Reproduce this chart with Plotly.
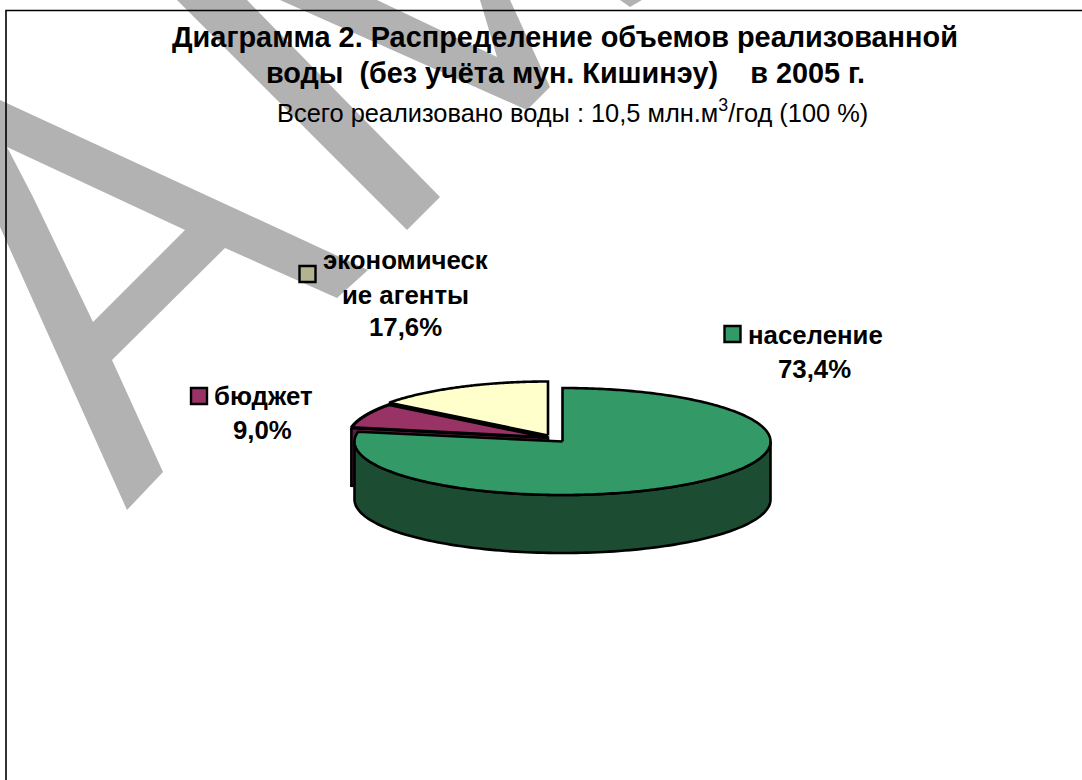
import numpy as np
import plotly.graph_objects as go

# --- data ---
categories = ["население", "бюджет", "экономические агенты"]
shares = [73.4, 9.0, 17.6]
share_labels = ["73,4%", "9,0%", "17,6%"]
colors_top = ["#339966", "#993366", "#FFFFCC"]
colors_side = ["#1C4D33", "#5A1F42", "#8C8C70"]
key_colors = ["#339966", "#993366", "#B3B38F"]

title_lines = ["Диаграмма 2. Распределение объемов реализованной",
               "воды\u00a0\u00a0(без учёта мун. Кишинэу)\u00a0\u00a0\u00a0\u00a0в 2005 г."]
subtitle = "Всего реализовано воды : 10,5 млн.м<sup>3</sup>/год (100 %)"

# --- pie geometry (page pixels) ---
W, H = 1082, 780
DEPTH = 58
BACK = 0.83           # foreshortening of the 3-D view on the back of the pie
centres = [(562.5, 441.5, 208, 53.5), (548, 437.5, 200, 54), (548, 435.5, 200, 54)]


def shown(theta):
    """true clockwise angle from the top -> angle as drawn in the tilted view"""
    return 360 - (360 - theta) * BACK


def arc(c, a0, a1, n=120, dy=0):
    cx, cy, rx, ry = c
    t = np.radians(np.linspace(a0, a1, n))
    return cx + rx * np.sin(t), cy - ry * np.cos(t) + dy


fractions = np.cumsum([0] + shares) / sum(shares) * 360
angles = [(0 if i == 0 else shown(fractions[i]), shown(fractions[i + 1]))
          for i in range(3)]

fig = go.Figure()


def poly(x, y, fill, width=2.6):
    fig.add_trace(go.Scatter(x=x, y=y, mode="lines", fill="toself", fillcolor=fill,
                             line=dict(color="#000000", width=width, simplify=False),
                             hoverinfo="skip", showlegend=False))


# burgundy: cut face, then top
ax, ay = arc(centres[1], angles[1][0], angles[1][0], 1)
poly([ax[0], centres[1][0], centres[1][0], ax[0], ax[0]],
     [ay[0], centres[1][1], centres[1][1] + DEPTH, ay[0] + DEPTH, ay[0]], colors_side[1])
x, y = arc(centres[1], *angles[1])
poly(np.r_[centres[1][0], x, centres[1][0]], np.r_[centres[1][1], y, centres[1][1]],
     colors_top[1], width=3.2)

# yellow top
x, y = arc(centres[2], *angles[2])
poly(np.r_[centres[2][0], x, centres[2][0]], np.r_[centres[2][1], y, centres[2][1]], colors_top[2])

# green: rim then top
xa, ya = arc(centres[0], 90, 270)
xb, yb = arc(centres[0], 270, 90, dy=DEPTH)
poly(np.r_[xa, xb, xa[0]], np.r_[ya, yb, ya[0]], colors_side[0])
x, y = arc(centres[0], *angles[0], n=300)
poly(np.r_[centres[0][0], x, centres[0][0]], np.r_[centres[0][1], y, centres[0][1]], colors_top[0])

# legend keys beside the data labels
key_x = [732.5, 199, 307.5]
key_y = [334, 396, 274]
fig.add_trace(go.Scatter(x=key_x, y=key_y, mode="markers",
                         marker=dict(symbol="square", size=16, color=key_colors,
                                     line=dict(color="#000000", width=2.4)),
                         hoverinfo="skip", showlegend=False))

FONT = "Liberation Sans"


def text(x, y, s, size, bold=True):
    fig.add_annotation(x=x, y=y, text=f"<b>{s}</b>" if bold else s, showarrow=False,
                       xanchor="center", yanchor="middle",
                       font=dict(family=FONT, size=size, color="#000000"))


text(565, 37, title_lines[0], 28.9)
text(565.5, 73, title_lines[1], 28.8)
text(572, 110.5, subtitle, 25.4, bold=False)

LABEL = 25.8
text(815, 335, categories[0], LABEL)
text(814, 369, share_labels[0], LABEL)
text(263, 396, categories[1], LABEL)
text(262, 430, share_labels[1], LABEL)
text(405, 260, "экономическ", LABEL)
text(405, 295, "ие агенты", LABEL)
text(405, 327, share_labels[2], LABEL)

# watermark, behind everything
WM = "#B2B2B2"
wm_paths = [
    "M0,100 L368,270 L337,298 L225,248 L112,360 L163,472 L127,510 L0,227 Z "
    "M7,147 L33,197 L93,322 L185,230 Z",
    "M177,0 L247,0 L440,197 L407,230 Z",
    "M280,0 L377,0 L497,57 L480,0 L510,0 L550,87 L527,110 Z",
    "M620,0 L642,0 L630,7 Z",
]
shapes = [dict(type="path", path=p, fillcolor=WM, line=dict(width=0), layer="below",
               xref="x", yref="y") for p in wm_paths]
shapes.append(dict(type="rect", x0=6, y0=10.5, x1=W + 10, y1=H + 10, layer="below",
                   line=dict(color="#000000", width=1.6), xref="x", yref="y"))

fig.update_layout(
    width=W, height=H, margin=dict(l=0, r=0, t=0, b=0),
    paper_bgcolor="#FFFFFF", plot_bgcolor="#FFFFFF", shapes=shapes,
    xaxis=dict(range=[0, W], visible=False, fixedrange=True),
    yaxis=dict(range=[H, 0], visible=False, fixedrange=True),
    showlegend=False,
)
fig.write_html("out.html", config=dict(displayModeBar=False),
               post_script="document.body.style.margin='0';document.documentElement.style.overflow='hidden';")
